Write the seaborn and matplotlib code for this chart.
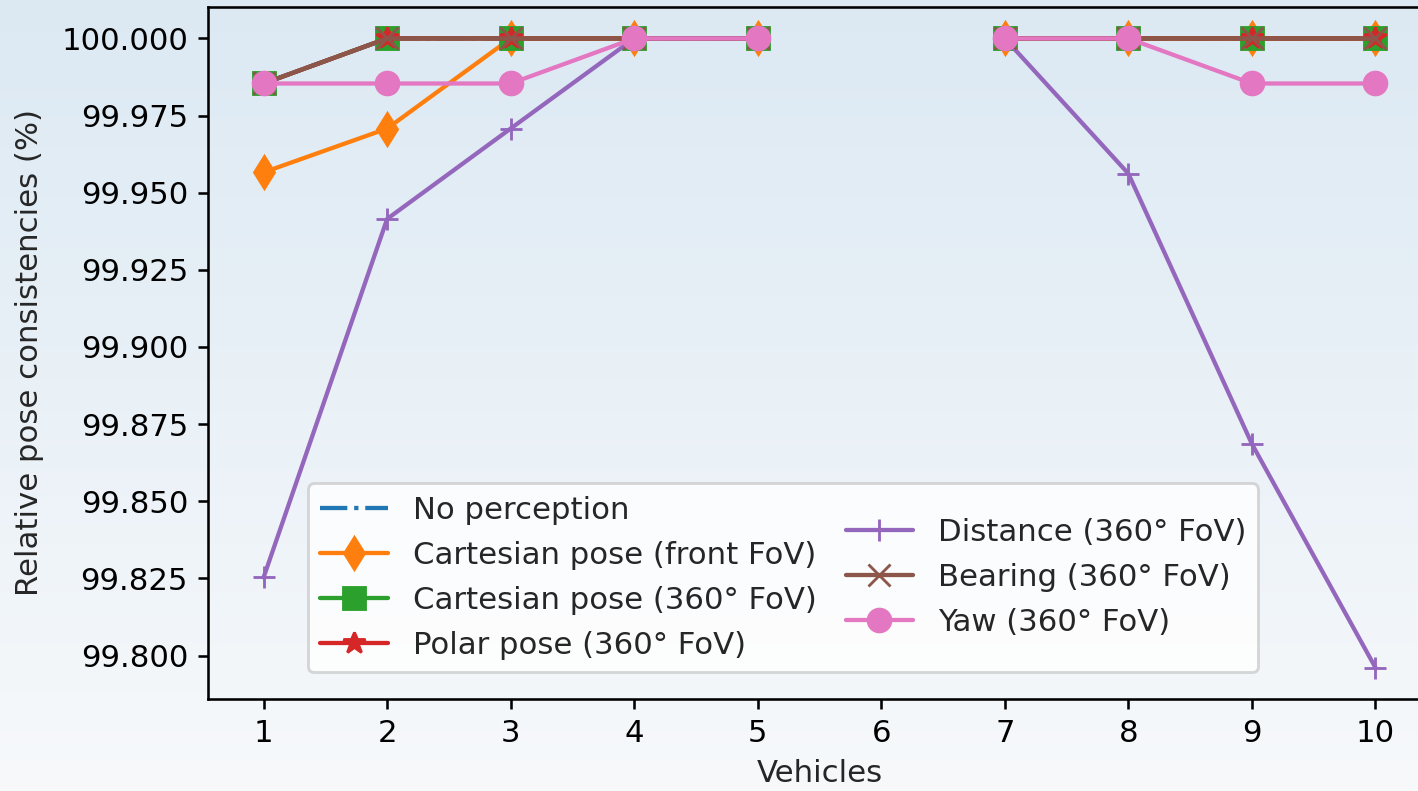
import numpy as np
import pandas as pd
import matplotlib
matplotlib.use("Agg")
import matplotlib.pyplot as plt
import seaborn as sns

vehicles = [1, 2, 3, 4, 5, 6, 7, 8, 9, 10]
no_perception = [99.9854, 100.0, 100.0, 100.0, 100.0, np.nan, 100.0, 100.0, 100.0, 100.0]
cart_front = [99.9566, 99.9708, 100.0, 100.0, 100.0, np.nan, 100.0, 100.0, 100.0, 100.0]
cart_360 = [99.9854, 100.0, 100.0, 100.0, 100.0, np.nan, 100.0, 100.0, 100.0, 100.0]
polar_360 = [99.9854, 100.0, 100.0, 100.0, 100.0, np.nan, 100.0, 100.0, 100.0, 100.0]
distance_360 = [99.8253, 99.9415, 99.9708, 100.0, 100.0, np.nan, 100.0, 99.9562, 99.8686, 99.7961]
bearing_360 = [99.9854, 100.0, 100.0, 100.0, 100.0, np.nan, 100.0, 100.0, 100.0, 100.0]
yaw_360 = [99.9854, 99.9854, 99.9854, 100.0, 100.0, np.nan, 100.0, 100.0, 99.9854, 99.9854]

labels = ["No perception", "Cartesian pose (front FoV)", "Cartesian pose (360° FoV)",
          "Polar pose (360° FoV)", "Distance (360° FoV)", "Bearing (360° FoV)", "Yaw (360° FoV)"]
series = [no_perception, cart_front, cart_360, polar_360, distance_360, bearing_360, yaw_360]
markers = [None, "d", "s", "*", "+", "x", "o"]
styles = ["-.", "-", "-", "-", "-", "-", "-"]

sns.set_style("ticks")
plt.rcParams["font.family"] = ["DejaVu Sans"]
plt.rcParams["font.size"] = 10.8

DPI = 205
fig = plt.figure(figsize=(1418 / DPI, 791 / DPI), dpi=DPI)

# gradient background
bg = fig.add_axes([0, 0, 1, 1], zorder=-10)
top = np.array([220, 233, 243]) / 255.0
bot = np.array([247, 249, 251]) / 255.0
t = np.linspace(0, 1, 256)[:, None]
grad = (top[None, :] * (1 - t) + bot[None, :] * t)[:, None, :]
bg.imshow(grad, aspect="auto", extent=[0, 1, 0, 1])
bg.axis("off")

ax = fig.add_axes([208 / 1418, 1 - 699 / 791, (1431 - 208) / 1418, (699 - 7) / 791])
ax.patch.set_alpha(0)

palette = sns.color_palette("tab10")
for i, (lab, vals, mk, ls) in enumerate(zip(labels, series, markers, styles)):
    df = pd.DataFrame({"Vehicles": vehicles, "val": vals})
    ax.plot(df["Vehicles"], df["val"], linestyle=ls, marker=mk, markersize=8,
            color=palette[i], label=lab, linewidth=1.5)

ax.set_xticks(vehicles)
ax.set_xlabel("Vehicles", labelpad=4)
ax.set_ylabel("Relative pose consistencies (%)", labelpad=6)
ax.yaxis.set_major_formatter(matplotlib.ticker.FormatStrFormatter("%.3f"))
for s in ax.spines.values():
    s.set_color("black")
    s.set_linewidth(0.9)
ax.tick_params(colors="black", length=3.5, width=0.9)

leg = ax.legend(ncol=2, loc="lower left", bbox_to_anchor=((308 - 208) / 1223, (699 - 672) / 692),
                borderaxespad=0, framealpha=0.8, handlelength=2.2, columnspacing=0.95,
                labelspacing=0.52)
try:
    leg._legend_handle_box.align = "center"
except Exception:
    pass

fig.savefig("out.png", dpi=DPI)
